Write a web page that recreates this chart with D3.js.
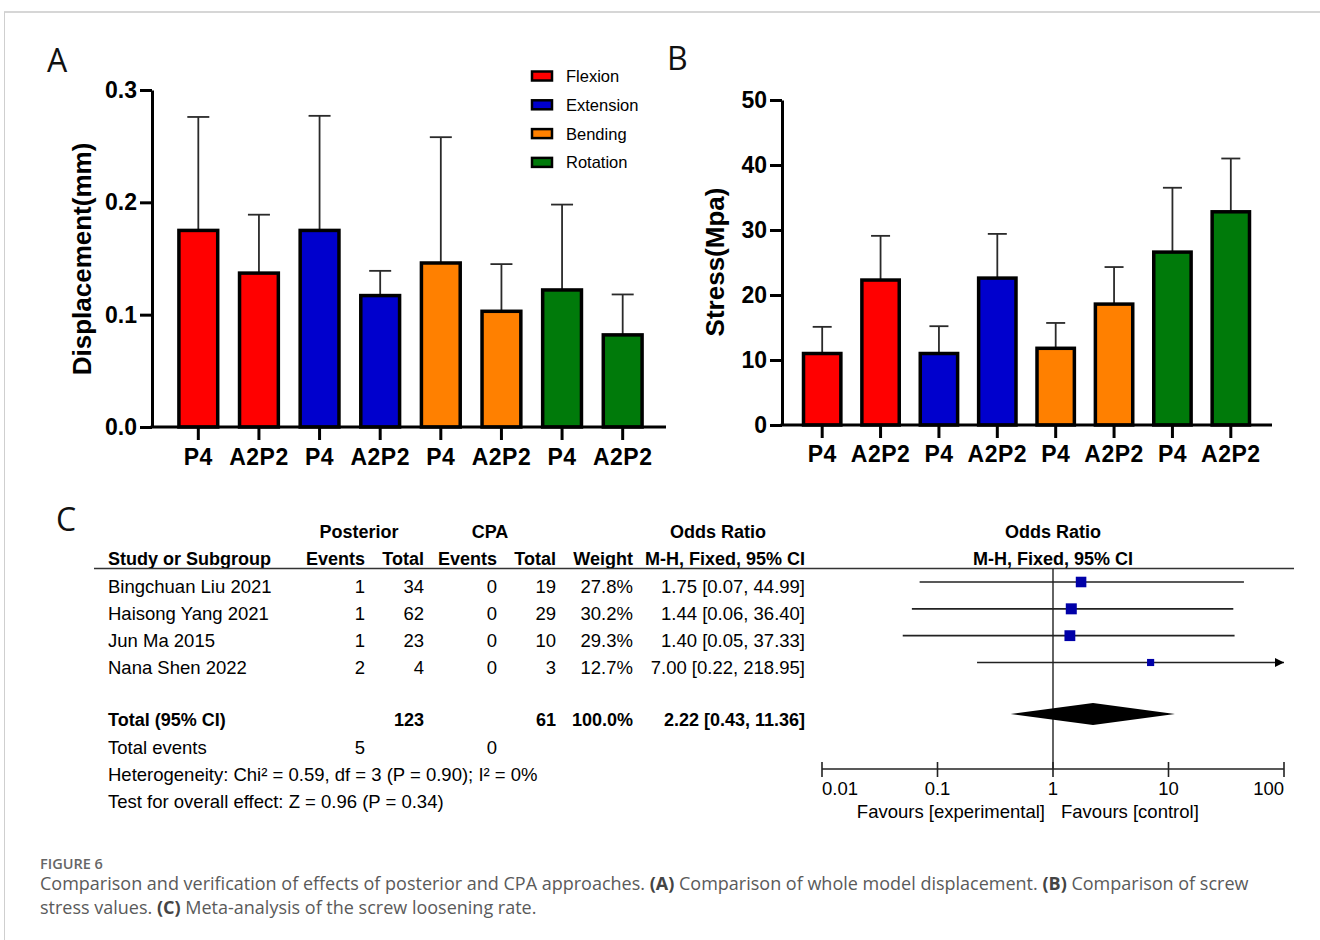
<!DOCTYPE html>
<html><head><meta charset="utf-8">
<script src="https://cdn.jsdelivr.net/npm/d3@7/dist/d3.min.js"></script>
<style>body{margin:0;background:#fff}svg{display:block}</style>
</head><body>
<script>
// ---------- DATA ----------
const conditions = ["Flexion", "Extension", "Bending", "Rotation"];
const groups = ["P4", "A2P2"];
const condColors = ["#ff0000", "#0000cd", "#ff8000", "#007a0a"];
// Panel A: displacement (mm), order: Flexion P4, Flexion A2P2, Extension P4, ...
const dispMean = [0.175, 0.137, 0.175, 0.117, 0.146, 0.103, 0.122, 0.082];
const dispSD   = [0.101, 0.052, 0.102, 0.022, 0.112, 0.042, 0.076, 0.036];
const dispTicks = [0, 0.1, 0.2, 0.3];
// Panel B: stress (MPa)
const stressMean = [11.0, 22.3, 11.0, 22.6, 11.8, 18.6, 26.6, 32.8];
const stressSD   = [4.1, 6.8, 4.2, 6.8, 3.9, 5.7, 9.9, 8.2];
const stressTicks = [0, 10, 20, 30, 40, 50];
// Panel C: meta-analysis
const studies = ["Bingchuan Liu 2021", "Haisong Yang 2021", "Jun Ma 2015", "Nana Shen 2022"];
const postEvents = [1, 1, 1, 2];
const postTotal = [34, 62, 23, 4];
const cpaEvents = [0, 0, 0, 0];
const cpaTotal = [19, 29, 10, 3];
const weights = [27.8, 30.2, 29.3, 12.7];
const orVal = [1.75, 1.44, 1.40, 7.00];
const orLo = [0.07, 0.06, 0.05, 0.22];
const orHi = [44.99, 36.40, 37.33, 218.95];
const total = {postTotal: 123, cpaTotal: 61, weight: 100.0, or: 2.22, lo: 0.43, hi: 11.36, postEvents: 5, cpaEvents: 0};
const forestTicks = [0.01, 0.1, 1, 10, 100];
const heterogeneity = "Heterogeneity: Chi² = 0.59, df = 3 (P = 0.90); I² = 0%";
const overall = "Test for overall effect: Z = 0.96 (P = 0.34)";

// ---------- SETUP ----------
const W = 1320, H = 940;
const svg = d3.select("body").append("svg").attr("width", W).attr("height", H);
svg.append("line").attr("x1", 4).attr("x2", W).attr("y1", 12).attr("y2", 12).attr("stroke", "#d6d6d6").attr("stroke-width", 2);
svg.append("line").attr("x1", 4.5).attr("x2", 4.5).attr("y1", 12).attr("y2", H).attr("stroke", "#cfcfcf").attr("stroke-width", 1);

const chartFont = "'Liberation Sans', Arial, sans-serif";
const barLabels = d3.range(8).map(i => groups[i % 2]);
const barColors = d3.range(8).map(i => condColors[Math.floor(i / 2)]);

function barPanel(opts) {
  const g = svg.append("g");
  const x = d3.scaleBand().domain(d3.range(8)).range(opts.xr).paddingInner(opts.pad).paddingOuter(opts.pad / 2);
  const y = d3.scaleLinear().domain(opts.dom).range(opts.yr);
  const base = y(0);
  // error bars
  const eb = g.append("g").attr("stroke", "#2a2a2a").attr("stroke-width", 1.8);
  opts.mean.forEach((m, i) => {
    const cx = x(i) + x.bandwidth() / 2;
    eb.append("line").attr("x1", cx).attr("x2", cx).attr("y1", y(m)).attr("y2", y(m + opts.sd[i]));
    eb.append("line").attr("x1", cx - opts.cap / 2).attr("x2", cx + opts.cap / 2).attr("y1", y(m + opts.sd[i])).attr("y2", y(m + opts.sd[i]));
  });
  // bars
  g.append("g").selectAll("rect").data(opts.mean).join("rect")
    .attr("x", (d, i) => x(i)).attr("width", x.bandwidth())
    .attr("y", d => y(d)).attr("height", d => base - y(d))
    .attr("fill", (d, i) => barColors[i]).attr("stroke", "#000").attr("stroke-width", 3.5);
  // y axis
  const ya = g.append("g").attr("transform", `translate(${opts.axX},0)`)
    .call(d3.axisLeft(y).tickValues(opts.ticks).tickFormat(opts.fmt).tickSize(12).tickSizeOuter(0).tickPadding(3));
  ya.select(".domain").attr("stroke-width", 3);
  ya.selectAll(".tick line").attr("stroke-width", 3);
  ya.selectAll("text").attr("font-family", chartFont).attr("font-weight", "bold").attr("font-size", 23).attr("fill", "#000");
  // x axis
  const xa = g.append("g").attr("transform", `translate(0,${base})`)
    .call(d3.axisBottom(x).tickFormat(i => barLabels[i]).tickSize(13).tickSizeOuter(0).tickPadding(opts.xpad));
  xa.select(".domain").remove();
  xa.selectAll(".tick line").attr("stroke-width", 3);
  xa.selectAll("text").attr("font-family", chartFont).attr("font-weight", "bold").attr("font-size", 23)
    .attr("letter-spacing", 0.5).attr("fill", "#000");
  g.append("line").attr("x1", opts.axX - 1.5).attr("x2", opts.xEnd).attr("y1", base).attr("y2", base).attr("stroke", "#000").attr("stroke-width", 3);
  // y title
  g.append("text").attr("transform", `translate(${opts.titleX},${opts.titleY}) rotate(-90)`)
    .attr("text-anchor", "middle").attr("font-family", chartFont).attr("font-weight", "bold").attr("font-size", 26)
    .text(opts.title);
}

// Panel A
barPanel({xr: [168, 653], pad: 0.36, dom: [0, 0.3], yr: [427, 90], mean: dispMean, sd: dispSD, cap: 22,
  axX: 152, xEnd: 666, ticks: dispTicks, fmt: d3.format(".1f"), xpad: 8.5, title: "Displacement(mm)", titleX: 91, titleY: 259});
// Panel B
barPanel({xr: [793, 1260], pad: 0.36, dom: [0, 50], yr: [425, 100], mean: stressMean, sd: stressSD, cap: 19,
  axX: 782, xEnd: 1272, ticks: stressTicks, fmt: d3.format("d"), xpad: 8, title: "Stress(Mpa)", titleX: 724, titleY: 262});

// Legend (panel A)
const leg = svg.append("g").selectAll("g").data(conditions).join("g")
  .attr("transform", (d, i) => `translate(532,${76 + i * 28.8})`);
leg.append("rect").attr("x", 0).attr("y", -4.5).attr("width", 20).attr("height", 9)
  .attr("fill", (d, i) => condColors[i]).attr("stroke", "#000").attr("stroke-width", 2.5);
leg.append("text").attr("x", 34).attr("y", 6).attr("font-family", "'Liberation Sans', Arial, sans-serif").attr("font-size", 16.5).text(d => d);

// Panel letters
const letterFont = "'Open Sans', sans-serif";
[["A", 47, 72], ["B", 667, 70], ["C", 56, 531]].forEach(([t, x, y]) =>
  svg.append("text").attr("x", x).attr("y", y).attr("font-family", letterFont).attr("font-size", 32).attr("fill", "#111").text(t));

// ---------- PANEL C ----------
const tf = "'Liberation Sans', Arial, sans-serif";
const tg = svg.append("g").attr("font-family", tf).attr("font-size", 18.5).attr("fill", "#000");
function txt(x, y, s, anchor, bold) {
  return tg.append("text").attr("x", x).attr("y", y).attr("text-anchor", anchor || "start")
    .attr("font-weight", bold ? "bold" : "normal").attr("font-size", bold ? 18 : 18.5).text(s);
}
const col = {name: 108, pe: 365, pt: 424, ce: 497, ct: 556, w: 633, ci: 805};
const fmt2 = d3.format(".2f");
const ciStr = (o, l, h) => `${fmt2(o)} [${fmt2(l)}, ${fmt2(h)}]`;
// headers
txt(359, 537.5, "Posterior", "middle", true);
txt(490, 537.5, "CPA", "middle", true);
txt(718, 537.5, "Odds Ratio", "middle", true);
const fx = d3.scaleLog().domain([0.01, 100]).range([822, 1284]);
txt(fx(1), 537.5, "Odds Ratio", "middle", true);
txt(col.name, 564.5, "Study or Subgroup", "start", true);
txt(col.pe, 564.5, "Events", "end", true);
txt(col.pt, 564.5, "Total", "end", true);
txt(col.ce, 564.5, "Events", "end", true);
txt(col.ct, 564.5, "Total", "end", true);
txt(col.w, 564.5, "Weight", "end", true);
txt(col.ci, 564.5, "M-H, Fixed, 95% CI", "end", true);
txt(fx(1), 564.5, "M-H, Fixed, 95% CI", "middle", true);

svg.append("line").attr("x1", 94).attr("x2", 1294).attr("y1", 568.5).attr("y2", 568.5).attr("stroke", "#333").attr("stroke-width", 1.6);

const rowY = d3.scalePoint().domain(d3.range(studies.length)).range([582, 662.5]);
studies.forEach((s, i) => {
  const yb = rowY(i) + 11;
  txt(col.name, yb, s);
  txt(col.pe, yb, postEvents[i], "end");
  txt(col.pt, yb, postTotal[i], "end");
  txt(col.ce, yb, cpaEvents[i], "end");
  txt(col.ct, yb, cpaTotal[i], "end");
  txt(col.w, yb, d3.format(".1f")(weights[i]) + "%", "end");
  txt(col.ci, yb, ciStr(orVal[i], orLo[i], orHi[i]), "end");
});
const totY = 725.5;
txt(col.name, totY, "Total (95% CI)", "start", true);
txt(col.pt, totY, total.postTotal, "end", true);
txt(col.ct, totY, total.cpaTotal, "end", true);
txt(col.w, totY, d3.format(".1f")(total.weight) + "%", "end", true);
txt(col.ci, totY, ciStr(total.or, total.lo, total.hi), "end", true);
txt(col.name, 753.5, "Total events");
txt(col.pe, 753.5, total.postEvents, "end");
txt(col.ce, 753.5, total.cpaEvents, "end");
txt(col.name, 780.5, heterogeneity);
txt(col.name, 807.5, overall);

// forest plot
const fg = svg.append("g");
const axY = 769;
fg.append("line").attr("x1", fx(1)).attr("x2", fx(1)).attr("y1", 568.5).attr("y2", axY).attr("stroke", "#222").attr("stroke-width", 1.4);
const sq = d3.scaleSqrt().domain([0, 30.2]).range([0, 11]);
studies.forEach((s, i) => {
  const y = rowY(i);
  const x1 = fx(Math.max(orLo[i], 0.01)), x2 = fx(Math.min(orHi[i], 100));
  fg.append("line").attr("x1", x1).attr("x2", x2).attr("y1", y).attr("y2", y).attr("stroke", "#222").attr("stroke-width", 1.6);
  if (orHi[i] > 100) {
    fg.append("path").attr("d", `M${x2},${y} L${x2 - 9},${y - 4.5} L${x2 - 9},${y + 4.5} Z`).attr("fill", "#000");
  }
  const sz = sq(weights[i]);
  fg.append("rect").attr("x", fx(orVal[i]) - sz / 2).attr("y", y - sz / 2).attr("width", sz).attr("height", sz).attr("fill", "#0000a8");
});
const dy = 714;
fg.append("path").attr("d", `M${fx(total.lo)},${dy} L${fx(total.or)},${dy - 11} L${fx(total.hi)},${dy} L${fx(total.or)},${dy + 11} Z`).attr("fill", "#000");
fg.append("line").attr("x1", fx(0.01)).attr("x2", fx(100)).attr("y1", axY).attr("y2", axY).attr("stroke", "#222").attr("stroke-width", 1.6);
forestTicks.forEach((t, i) => {
  fg.append("line").attr("x1", fx(t)).attr("x2", fx(t)).attr("y1", axY - 7).attr("y2", axY + 8).attr("stroke", "#222").attr("stroke-width", 1.6);
  const anchor = i === 0 ? "start" : (i === forestTicks.length - 1 ? "end" : "middle");
  txt(fx(t), 795, String(t), anchor);
});
txt(1045, 818, "Favours [experimental]", "end");
txt(1061, 818, "Favours [control]", "start");

// ---------- CAPTION ----------
const cf = "'Open Sans', sans-serif";
svg.append("text").attr("x", 40).attr("y", 869).attr("font-family", cf).attr("font-size", 14.5).attr("font-weight", 600)
  .attr("fill", "#666").text("FIGURE 6");
const capLines = [
  [["Comparison and verification of effects of posterior and CPA approaches. ", 0], ["(A)", 1], [" Comparison of whole model displacement. ", 0], ["(B)", 1], [" Comparison of screw", 0]],
  [["stress values. ", 0], ["(C)", 1], [" Meta-analysis of the screw loosening rate.", 0]]
];
capLines.forEach((parts, li) => {
  const t = svg.append("text").attr("x", 40).attr("y", 890 + li * 24).attr("font-family", cf).attr("font-size", 18).attr("fill", "#5a5a5a");
  parts.forEach(([s, b]) => t.append("tspan").attr("font-weight", b ? 700 : 400).attr("fill", b ? "#444" : "#5a5a5a").text(s));
});
</script>
</body></html>
